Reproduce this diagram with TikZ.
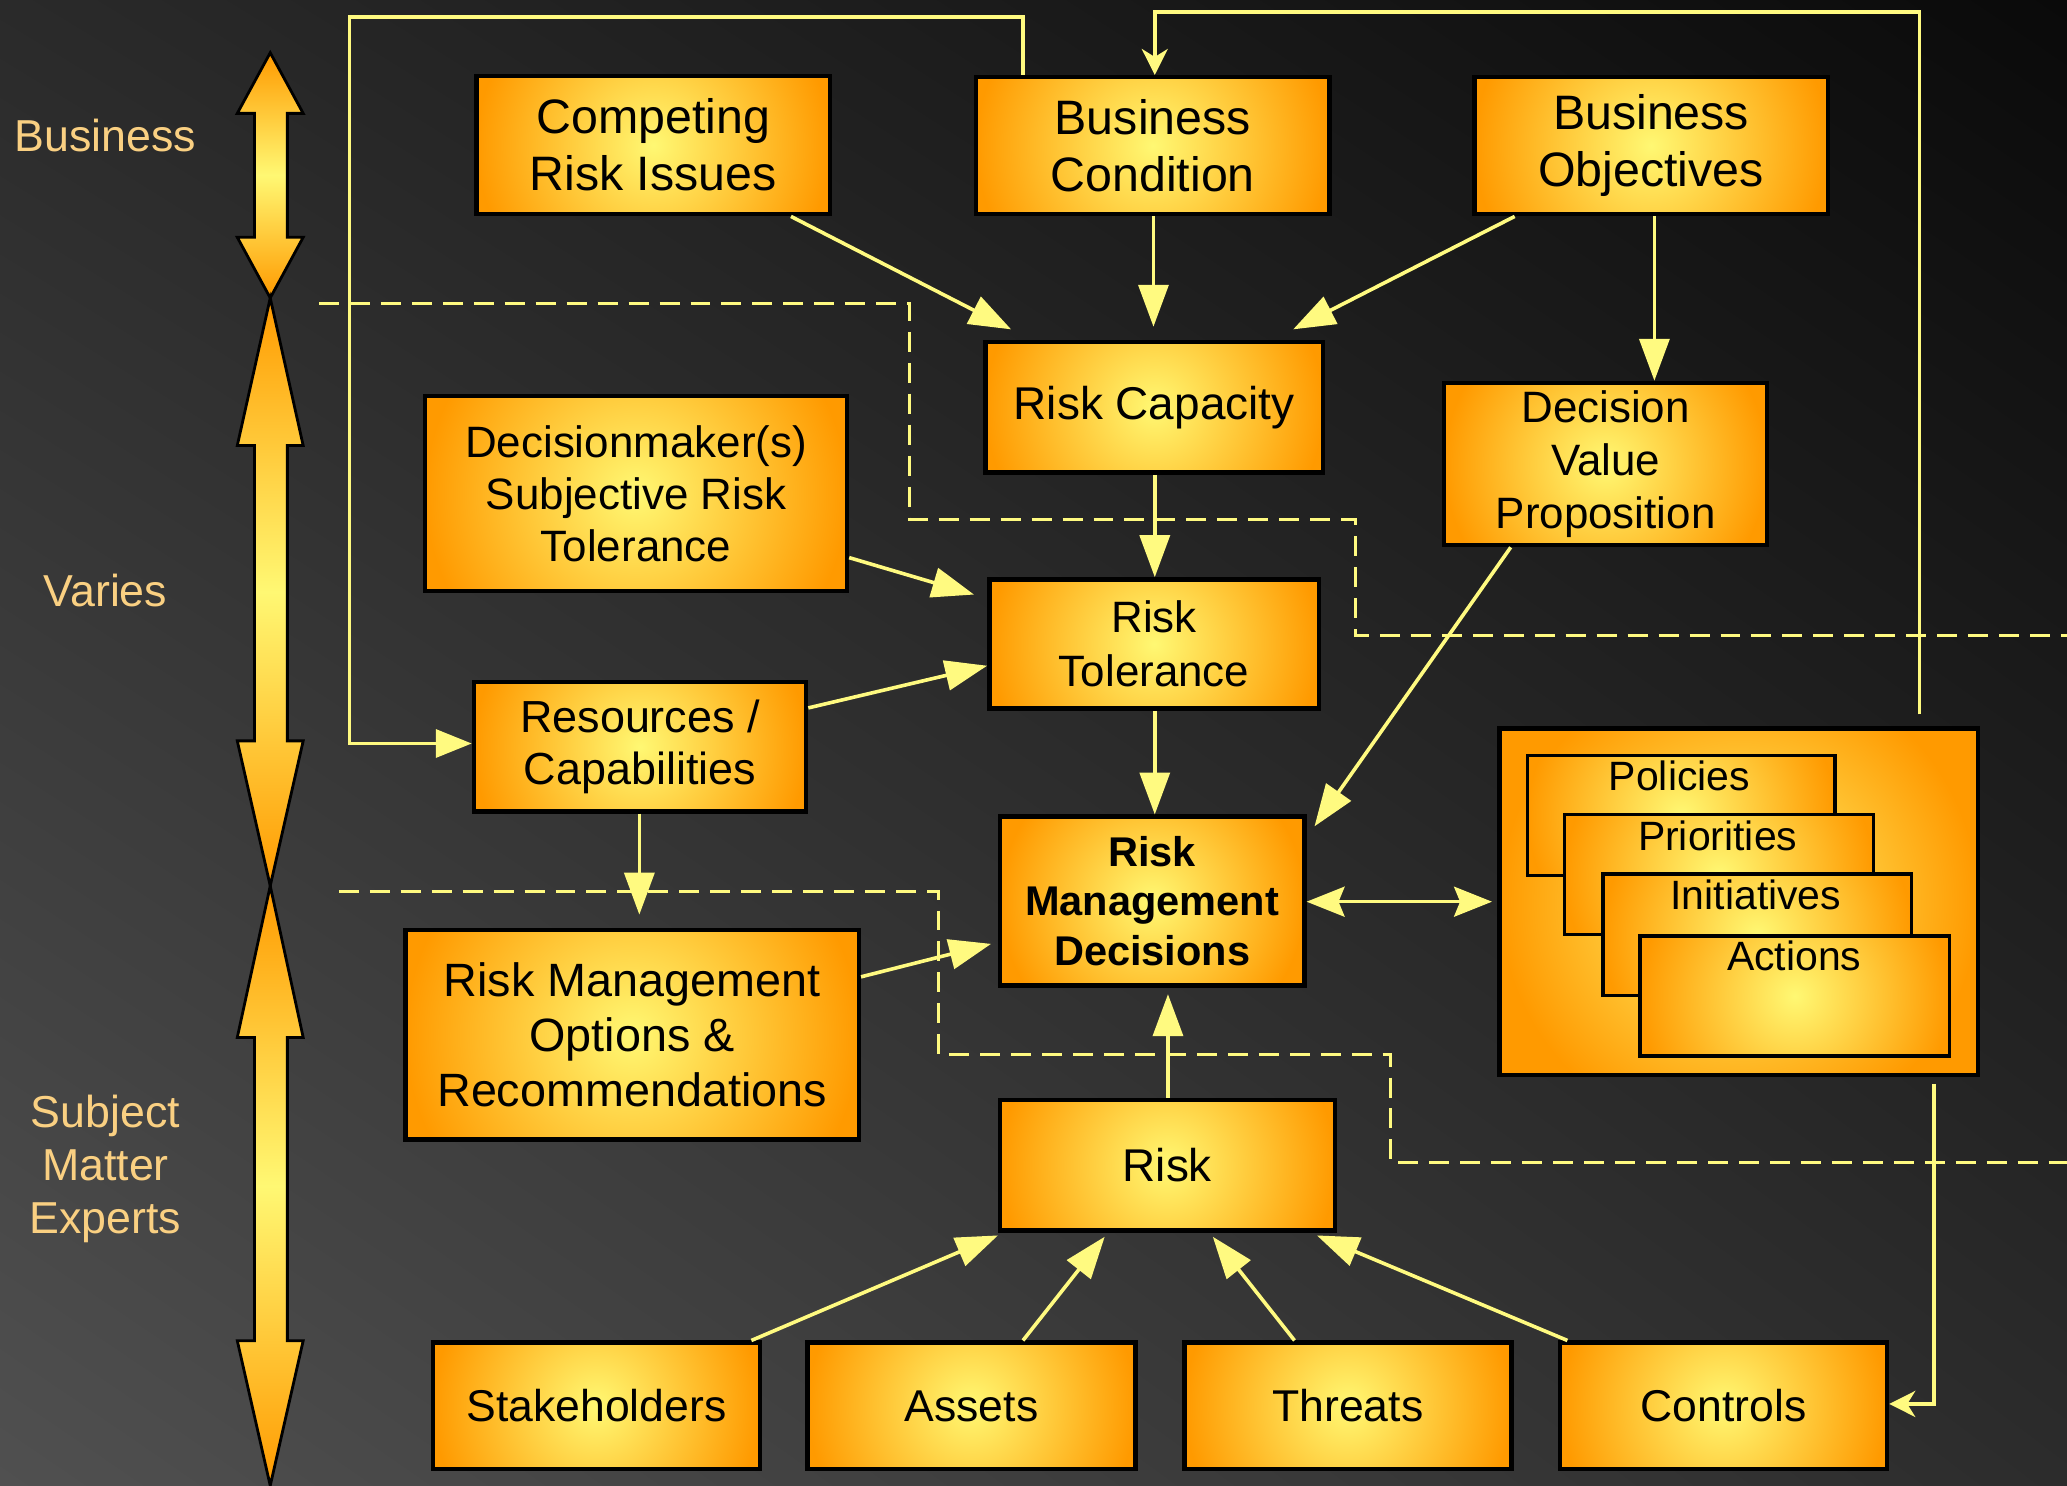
\documentclass[tikz,border=0pt]{standalone}
\usepackage{fontspec}
\setmainfont{Liberation Sans}
\usetikzlibrary{arrows.meta,calc,shadings}
\definecolor{ylw}{RGB}{255,248,115}
\definecolor{org}{RGB}{255,154,0}
\definecolor{lnc}{RGB}{255,250,128}
\definecolor{sidecol}{RGB}{250,208,130}
\definecolor{bgtl}{RGB}{42,42,42}
\definecolor{bgtr}{RGB}{10,10,10}
\definecolor{bgbl}{RGB}{80,80,80}
\definecolor{bgbr}{RGB}{44,44,44}
\tikzset{
 glow/.style={path picture={\shade[inner color=ylw,outer color=org] let \p1=(path picture bounding box.west), \p2=(path picture bounding box.east) in (path picture bounding box.center) circle [radius={0.5*(\x2-\x1)}];}},
 box/.style={draw=black, line width=2.2pt, fill=org, glow, align=center, inner sep=0pt, text=black, font=\fontsize{23pt}{28.4pt}\selectfont},
 bigtxt/.style={font=\fontsize{24.2pt}{28.4pt}\selectfont},
 ibox/.style={box, line width=1.6pt},
 itxt/.style={font=\fontsize{20.5pt}{24pt}\selectfont, text=black, inner sep=0pt, anchor=base},
 side/.style={font=\fontsize{22.4pt}{26.6pt}\selectfont, text=sidecol, align=center, inner sep=0pt},
 conn/.style={draw=lnc, line width=1.8pt, -{Triangle[length=21pt,width=15pt]}},
 smconn/.style={draw=lnc, line width=1.8pt, -{Stealth[length=13pt,width=13pt,inset=4pt]}},
 dbl/.style={draw=lnc, line width=1.8pt, {Stealth[length=19pt,width=15pt,inset=3pt]}-{Stealth[length=19pt,width=15pt,inset=3pt]}},
 dsh/.style={draw=lnc, line width=1.5pt, dash pattern=on 10pt off 5.5pt},
 bar/.style={draw=black, line width=1.4pt, line join=miter, top color=org, bottom color=org, middle color=ylw}
}
\newcommand\mkbox[7][]{\node[box,#1, minimum width={(#5-#3-3)*0.66pt}, minimum height={(#6-#4-3)*0.66pt}] (#2) at ({(#3+#5)/2},{(#4+#6)/2}) {#7};}
\begin{document}
\begin{tikzpicture}[x=0.66pt,y=-0.66pt]
\useasboundingbox (0,0) rectangle (1568,1127);
\shade[upper left=bgtl, upper right=bgtr, lower left=bgbl, lower right=bgbr] (0,0) rectangle (1568,1127);
% left bars
\path[bar] (205,40) -- (230,86) -- (218,86) -- (218,180) -- (230,180) -- (205,226) -- (180,180) -- (193,180) -- (193,86) -- (180,86) -- cycle;
\path[bar] (205,226) -- (230,338) -- (218,338) -- (218,562) -- (230,562) -- (205,672) -- (180,562) -- (193,562) -- (193,338) -- (180,338) -- cycle;
\path[bar] (205,672) -- (230,787) -- (218,787) -- (218,1017) -- (230,1017) -- (205,1127) -- (180,1017) -- (193,1017) -- (193,787) -- (180,787) -- cycle;
\node[side] (lbus) at (80,103) {Business};
\node[side] (lvar) at (80,448) {Varies};
\node[side] (lsme) at (80,887) {Subject\\Matter\\Experts};
% dashed region lines
\draw[dsh] (242,230) -- (690,230) -- (690,394) -- (1028,394) -- (1028,482) -- (1568,482);
\draw[dsh] (257,676) -- (712,676) -- (712,800) -- (1055,800) -- (1055,882) -- (1568,882);
% boxes
\mkbox[bigtxt]{cri}{360}{56}{631}{164}{Competing\\Risk Issues}
\mkbox[bigtxt]{bc}{739}{57}{1010}{164}{Business\\Condition}
\mkbox[bigtxt]{bo}{1117}{57}{1388}{164}{Business\\Objectives}
\mkbox{rc}{746}{258}{1005}{360}{Risk Capacity}
\mkbox[font=\fontsize{22pt}{26.4pt}\selectfont]{dvp}{1094}{289}{1342}{415}{Decision\\Value\\Proposition}
\mkbox[font=\fontsize{22pt}{26pt}\selectfont]{dst}{321}{299}{644}{450}{Decisionmaker(s)\\Subjective Risk\\Tolerance}
\mkbox[font=\fontsize{22pt}{27pt}\selectfont]{rt}{749}{438}{1002}{539}{Risk\\Tolerance}
\mkbox[font=\fontsize{22.5pt}{26.4pt}\selectfont]{res}{358}{516}{613}{617}{Resources /\\Capabilities}
\mkbox[font=\fontsize{20.8pt}{24.8pt}\selectfont\bfseries]{rmd}{757}{618}{991}{749}{Risk\\Management\\Decisions}
\mkbox[font=\fontsize{23.4pt}{27.7pt}\selectfont]{rmo}{306}{704}{653}{866}{Risk Management\\Options \&\\Recommendations}
\mkbox{risk}{757}{833}{1014}{935}{Risk}
\mkbox[font=\fontsize{22.3pt}{27pt}\selectfont]{stk}{327}{1017}{578}{1116}{Stakeholders}
\mkbox[font=\fontsize{22.3pt}{27pt}\selectfont]{ast}{611}{1017}{863}{1116}{Assets}
\mkbox[font=\fontsize{22.3pt}{27pt}\selectfont]{thr}{897}{1017}{1148}{1116}{Threats}
\mkbox[font=\fontsize{22.3pt}{27pt}\selectfont]{ctl}{1182}{1017}{1433}{1116}{Controls}
\mkbox{pol}{1136}{551}{1502}{817}{}
\node[ibox, minimum width={(1393-1158-2)*0.66pt}, minimum height={(665-572-2)*0.66pt}] (p1) at ({(1158+1393)/2},{(572+665)/2}) {};
\node[itxt] (t1) at (1274,600) {Policies};
\node[ibox, minimum width={(1422-1186-2)*0.66pt}, minimum height={(710-617-2)*0.66pt}] (p2) at ({(1186+1422)/2},{(617+710)/2}) {};
\node[itxt] (t2) at (1303,645) {Priorities};
\node[ibox, minimum width={(1451-1215-2)*0.66pt}, minimum height={(756-662-2)*0.66pt}] (p3) at ({(1215+1451)/2},{(662+756)/2}) {};
\node[itxt] (t3) at (1332,690) {Initiatives};
\node[ibox, minimum width={(1480-1243-2)*0.66pt}, minimum height={(802-709-2)*0.66pt}] (p4) at ({(1243+1480)/2},{(709+802)/2}) {};
\node[itxt] (t4) at (1361,736) {Actions};
% connectors
\draw[conn] (600,0 |- cri.south) -- ($(767,0 |- rc.north)+(0,-8)$);
\draw[conn] (875,0 |- bc.south) -- ($(875,0 |- rc.north)+(0,-10)$);
\draw[conn] (1149,0 |- bo.south) -- ($(981,0 |- rc.north)+(0,-8)$);
\draw[conn] (1255,0 |- bo.south) -- (1255,0 |- dvp.north);
\draw[conn] (876,0 |- rc.south) -- (876,0 |- rt.north);
\draw[conn] (dst.east |- 0,423) -- ($(rt.west |- 0,451)+(-10,0)$);
\draw[conn] (res.east |- 0,537) -- (rt.west |- 0,505);
\draw[conn] (876,0 |- rt.south) -- (876,0 |- rmd.north);
\draw[conn] (1146,0 |- dvp.south) -- ($(rmd.north east)+(6,9)$);
\draw[conn] (485,0 |- res.south) -- ($(485,0 |- rmo.north)+(0,-10)$);
\draw[conn] (rmo.east |- 0,741) -- ($(rmd.west |- 0,716)+(-5,0)$);
\draw[dbl] (rmd.east |- 0,684) -- ($(pol.west |- 0,684)+(-4,0)$);
\draw[conn] (886,0 |- risk.north) -- ($(886,0 |- rmd.south)+(0,5)$);
\draw[conn] (570,0 |- stk.north) -- ($(757,0 |- risk.south)+(0,2)$);
\draw[conn] (776,0 |- ast.north) -- ($(838,0 |- risk.south)+(0,3)$);
\draw[conn] (982,0 |- thr.north) -- ($(920,0 |- risk.south)+(0,3)$);
\draw[conn] (1189,0 |- ctl.north) -- ($(999,0 |- risk.south)+(0,2)$);
\draw[smconn] ($(1467,0 |- pol.south)+(0,5)$) |- (ctl.east |- 0,1065);
\draw[smconn] ($(1456,0 |- pol.north)+(0,-9)$) -- (1456,9) -| (876,0 |- bc.north);
\draw[draw=lnc, line width=1.8pt, -{Triangle[length=18pt,width=14pt]}] (776,0 |- bc.north) |- (265,13) |- (res.west |- 0,564);
\end{tikzpicture}
\end{document}
